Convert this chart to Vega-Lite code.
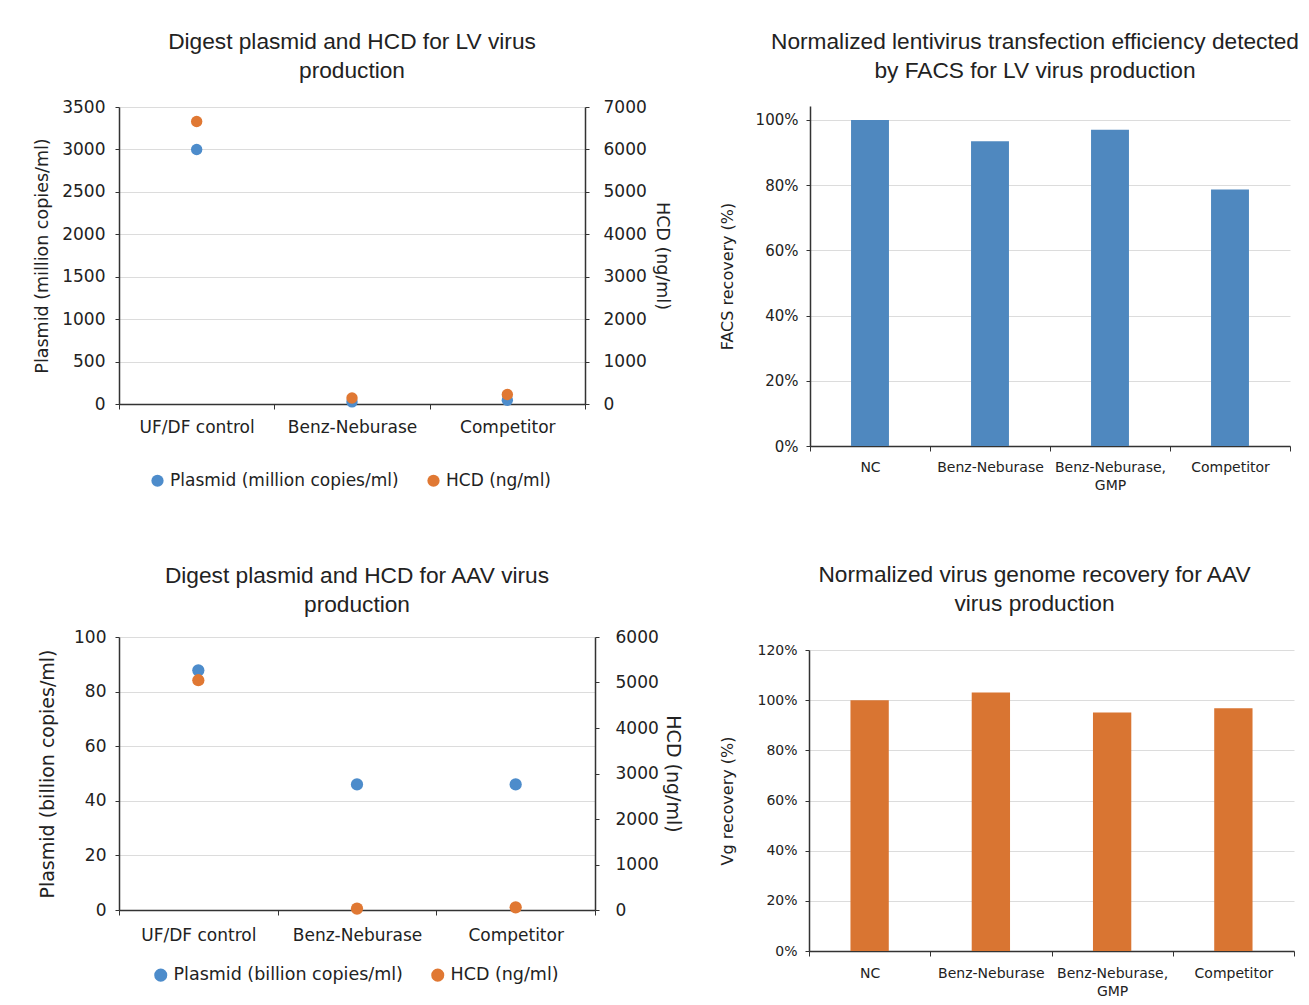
{
  "$schema": "https://vega.github.io/schema/vega-lite/v6.json",
  "background": "white",
  "padding": {"left": 33, "top": -33, "right": 0, "bottom": 0},
  "datasets": {
    "lv": [
      {"sample": "UF/DF control", "series": "Plasmid (million copies/ml)", "value": 3000},
      {"sample": "UF/DF control", "series": "HCD (ng/ml)", "value": 6660},
      {"sample": "Benz-Neburase", "series": "Plasmid (million copies/ml)", "value": 25},
      {"sample": "Benz-Neburase", "series": "HCD (ng/ml)", "value": 142},
      {"sample": "Competitor", "series": "Plasmid (million copies/ml)", "value": 44},
      {"sample": "Competitor", "series": "HCD (ng/ml)", "value": 223}
    ],
    "aav": [
      {"sample": "UF/DF control", "series": "Plasmid (billion copies/ml)", "value": 87.8},
      {"sample": "UF/DF control", "series": "HCD (ng/ml)", "value": 5050},
      {"sample": "Benz-Neburase", "series": "Plasmid (billion copies/ml)", "value": 46.0},
      {"sample": "Benz-Neburase", "series": "HCD (ng/ml)", "value": 31},
      {"sample": "Competitor", "series": "Plasmid (billion copies/ml)", "value": 46.0},
      {"sample": "Competitor", "series": "HCD (ng/ml)", "value": 59}
    ],
    "facs": [
      {"sample": "NC", "recovery": 100},
      {"sample": "Benz-Neburase", "recovery": 93.5},
      {"sample": "Benz-Neburase, GMP", "recovery": 97.0},
      {"sample": "Competitor", "recovery": 78.7}
    ],
    "vg": [
      {"sample": "NC", "recovery": 100},
      {"sample": "Benz-Neburase", "recovery": 103.1},
      {"sample": "Benz-Neburase, GMP", "recovery": 95.1},
      {"sample": "Competitor", "recovery": 96.8}
    ],
    "none": []
  },
  "columns": 2,
  "align": "none",
  "spacing": {"column": 37, "row": 63},
  "concat": [
    {"width": 1, "height": 1, "data": {"name": "none"}, "mark": "point", "encoding": {}},
    {"width": 1, "height": 1, "data": {"name": "none"}, "mark": "point", "encoding": {}},
    {
      "width": 466,
      "height": 297,
      "title": {"text": ["Digest plasmid and HCD for LV virus", "production"], "offset": 15},
      "data": {"name": "lv"},
      "layer": [
        {
          "transform": [{"filter": "datum.series == 'Plasmid (million copies/ml)'"}],
          "mark": {"type": "circle", "size": 130, "opacity": 1},
          "encoding": {
            "x": {"field": "sample", "type": "nominal", "sort": ["UF/DF control", "Benz-Neburase", "Competitor"],
              "scale": {"type": "band", "paddingInner": 0, "paddingOuter": 0},
              "axis": {"title": null, "labelAngle": 0, "tickBand": "extent", "labelFontSize": 17, "labelPadding": 10, "tickSize": 5, "domainWidth": 1.5, "grid": false}},
            "y": {"field": "value", "type": "quantitative", "scale": {"domain": [0, 3500], "nice": false},
              "axis": {"title": "Plasmid (million copies/ml)", "values": [0, 500, 1000, 1500, 2000, 2500, 3000, 3500], "format": "d", "grid": true, "labelFontSize": 17, "titleFontSize": 17.5, "tickSize": 4, "labelPadding": 10, "titlePadding": 10, "domainWidth": 1.5}},
            "color": {"field": "series", "type": "nominal",
              "scale": {"domain": ["Plasmid (million copies/ml)", "HCD (ng/ml)"], "range": ["#4d8ccb", "#e07833"]},
              "legend": {"orient": "none", "legendX": 17, "legendY": 352, "padding": 13, "direction": "horizontal", "title": null, "symbolType": "circle", "symbolSize": 150, "labelFontSize": 17, "labelFont": "DejaVu Sans", "labelColor": "#222", "labelLimit": 400, "columnPadding": 26, "labelOffset": 4, "symbolStrokeWidth": 0}}
          }
        },
        {
          "transform": [{"filter": "datum.series == 'HCD (ng/ml)'"}],
          "mark": {"type": "circle", "size": 130, "opacity": 1},
          "encoding": {
            "x": {"field": "sample", "type": "nominal", "sort": ["UF/DF control", "Benz-Neburase", "Competitor"],
              "scale": {"type": "band", "paddingInner": 0, "paddingOuter": 0}},
            "y": {"field": "value", "type": "quantitative", "scale": {"domain": [0, 7000], "nice": false},
              "axis": {"orient": "right", "title": "HCD (ng/ml)", "values": [0, 1000, 2000, 3000, 4000, 5000, 6000, 7000], "format": "d", "grid": false, "labelFontSize": 17, "titleFontSize": 17.5, "tickSize": 4, "labelPadding": 14, "titlePadding": 6, "domainWidth": 1.5}},
            "color": {"field": "series", "type": "nominal"}
          }
        }
      ],
      "resolve": {"scale": {"y": "independent"}}
    },
    {
      "width": 480,
      "height": 340,
      "title": {"text": ["Normalized lentivirus transfection efficiency detected", "by FACS for LV virus production"], "offset": 23, "dx": -15},
      "data": {"name": "facs"},
      "mark": {"type": "bar", "color": "#4f88bf", "width": {"band": 0.316}},
      "encoding": {
        "x": {"field": "sample", "type": "nominal", "sort": ["NC", "Benz-Neburase", "Benz-Neburase, GMP", "Competitor"],
          "scale": {"type": "band", "paddingInner": 0, "paddingOuter": 0},
          "axis": {"title": null, "labelAngle": 0, "tickBand": "extent", "labelFontSize": 14, "labelPadding": 9, "tickSize": 5, "domainWidth": 1.5, "grid": false, "labelLimit": 200,
            "labelExpr": "datum.label == 'Benz-Neburase, GMP' ? ['Benz-Neburase,', 'GMP'] : datum.label", "labelLineHeight": 18}},
        "y": {"field": "recovery", "type": "quantitative", "scale": {"domain": [0, 104.29], "nice": false},
          "axis": {"title": "FACS recovery (%)", "values": [0, 20, 40, 60, 80, 100], "labelExpr": "datum.value + '%'", "grid": true, "labelFontSize": 15, "titleFontSize": 16, "tickSize": 4, "labelPadding": 8, "titlePadding": 20, "domainWidth": 1.5}}
      }
    },
    {
      "width": 476,
      "height": 273,
      "title": {"text": ["Digest plasmid and HCD for AAV virus", "production"], "offset": 11},
      "data": {"name": "aav"},
      "layer": [
        {
          "transform": [{"filter": "datum.series == 'Plasmid (billion copies/ml)'"}],
          "mark": {"type": "circle", "size": 150, "opacity": 1},
          "encoding": {
            "x": {"field": "sample", "type": "nominal", "sort": ["UF/DF control", "Benz-Neburase", "Competitor"],
              "scale": {"type": "band", "paddingInner": 0, "paddingOuter": 0},
              "axis": {"title": null, "labelAngle": 0, "tickBand": "extent", "labelFontSize": 17, "labelPadding": 12, "tickSize": 5, "domainWidth": 1.5, "grid": false}},
            "y": {"field": "value", "type": "quantitative", "scale": {"domain": [0, 100], "nice": false},
              "axis": {"title": "Plasmid (billion copies/ml)", "values": [0, 20, 40, 60, 80, 100], "format": "d", "grid": true, "labelFontSize": 17, "titleFontSize": 19, "tickSize": 4, "labelPadding": 9, "titlePadding": 16, "domainWidth": 1.5}},
            "color": {"field": "series", "type": "nominal",
              "scale": {"domain": ["Plasmid (billion copies/ml)", "HCD (ng/ml)"], "range": ["#4d8ccb", "#e07833"]},
              "legend": {"orient": "none", "legendX": 33, "legendY": 329, "direction": "horizontal", "title": null, "symbolType": "circle", "symbolSize": 170, "labelFontSize": 17.5, "labelFont": "DejaVu Sans", "labelColor": "#222", "labelLimit": 400, "columnPadding": 26, "labelOffset": 4, "symbolStrokeWidth": 0}}
          }
        },
        {
          "transform": [{"filter": "datum.series == 'HCD (ng/ml)'"}],
          "mark": {"type": "circle", "size": 150, "opacity": 1},
          "encoding": {
            "x": {"field": "sample", "type": "nominal", "sort": ["UF/DF control", "Benz-Neburase", "Competitor"],
              "scale": {"type": "band", "paddingInner": 0, "paddingOuter": 0}},
            "y": {"field": "value", "type": "quantitative", "scale": {"domain": [0, 6000], "nice": false},
              "axis": {"orient": "right", "title": "HCD (ng/ml)", "values": [0, 1000, 2000, 3000, 4000, 5000, 6000], "format": "d", "grid": false, "labelFontSize": 17, "titleFontSize": 19, "tickSize": 4, "labelPadding": 16, "titlePadding": 4, "domainWidth": 1.5}},
            "color": {"field": "series", "type": "nominal"}
          }
        }
      ],
      "resolve": {"scale": {"y": "independent"}}
    },
    {
      "width": 485,
      "height": 301,
      "title": {"text": ["Normalized virus genome recovery for AAV", "virus production"], "offset": 27, "dx": -17},
      "data": {"name": "vg"},
      "mark": {"type": "bar", "color": "#d97532", "width": {"band": 0.316}},
      "encoding": {
        "x": {"field": "sample", "type": "nominal", "sort": ["NC", "Benz-Neburase", "Benz-Neburase, GMP", "Competitor"],
          "scale": {"type": "band", "paddingInner": 0, "paddingOuter": 0},
          "axis": {"title": null, "labelAngle": 0, "tickBand": "extent", "labelFontSize": 14, "labelPadding": 10, "tickSize": 5, "domainWidth": 1.5, "grid": false, "labelLimit": 200,
            "labelExpr": "datum.label == 'Benz-Neburase, GMP' ? ['Benz-Neburase,', 'GMP'] : datum.label", "labelLineHeight": 18}},
        "y": {"field": "recovery", "type": "quantitative", "scale": {"domain": [0, 120], "nice": false},
          "axis": {"title": "Vg recovery (%)", "values": [0, 20, 40, 60, 80, 100, 120], "labelExpr": "datum.value + '%'", "grid": true, "labelFontSize": 14, "titleFontSize": 16, "tickSize": 4, "labelPadding": 8, "titlePadding": 21, "domainWidth": 1.5}}
      }
    }
  ],
  "resolve": {"scale": {"color": "independent"}},
  "config": {
    "view": {"stroke": null},
    "axis": {"domainColor": "#333", "tickColor": "#333", "labelColor": "#222", "titleColor": "#222", "gridColor": "#dcdcdc", "labelFont": "DejaVu Sans", "titleFont": "DejaVu Sans", "titleFontWeight": "normal"},
    "title": {"font": "Liberation Sans", "fontSize": 22.7, "fontWeight": "normal", "color": "#222", "lineHeight": 29, "anchor": "middle"}
  }
}
